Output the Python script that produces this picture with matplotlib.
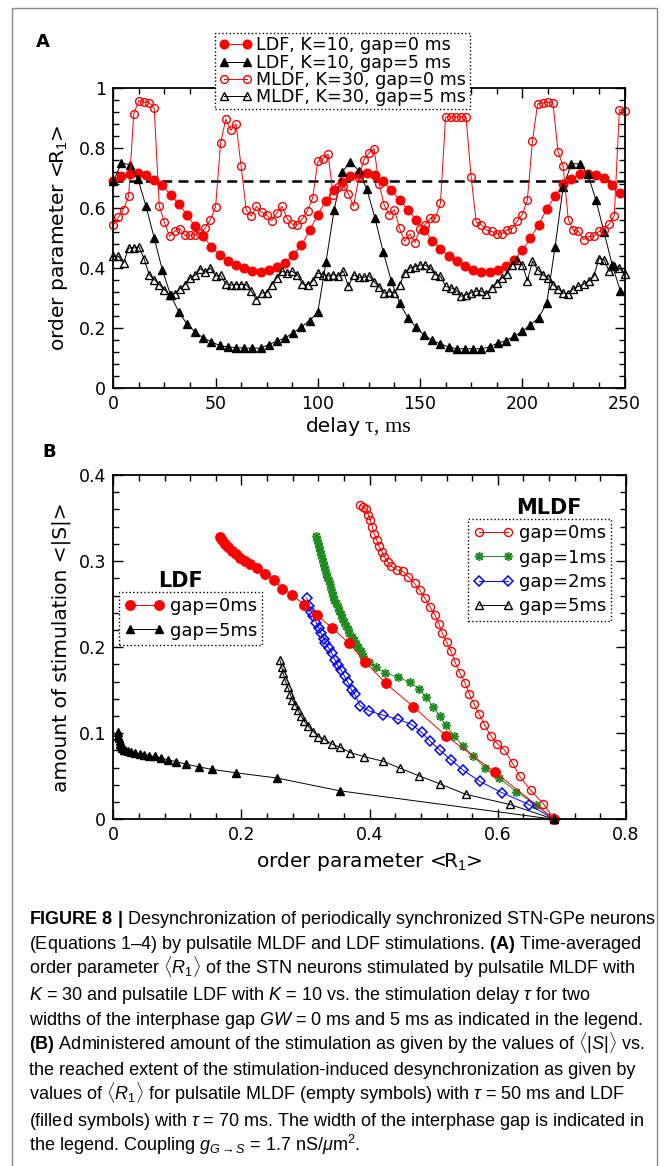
import matplotlib
matplotlib.use("Agg")
import matplotlib.pyplot as plt
from matplotlib.patches import Rectangle
from matplotlib.ticker import MultipleLocator, FuncFormatter
import numpy as np

W, H = 669, 1166

plt.rcParams['font.family'] = ['DejaVu Sans']
plt.rcParams['mathtext.fontset'] = 'custom'
plt.rcParams['mathtext.rm'] = 'Liberation Sans'
plt.rcParams['mathtext.it'] = 'Liberation Sans:italic'
plt.rcParams['mathtext.bf'] = 'Liberation Sans:bold'

# ---------------- panel A: <R1> vs delay ----------------
tau_ldf = np.arange(0, 249, 4)
ldf_gap0 = [0.690, 0.706, 0.714, 0.717, 0.712, 0.695, 0.676, 0.645, 0.614, 0.578,
            0.539, 0.506, 0.471, 0.445, 0.423, 0.410, 0.400, 0.389, 0.387, 0.393,
            0.403, 0.417, 0.445, 0.476, 0.526, 0.578, 0.625, 0.659, 0.686, 0.706,
            0.714, 0.717, 0.710, 0.690, 0.659, 0.628, 0.595, 0.562, 0.528, 0.492,
            0.464, 0.439, 0.423, 0.406, 0.395, 0.387, 0.387, 0.395, 0.408, 0.428,
            0.459, 0.500, 0.545, 0.597, 0.640, 0.681, 0.697, 0.714, 0.714, 0.712,
            0.701, 0.679, 0.651]
ldf_gap5 = [0.690, 0.751, 0.745, 0.699, 0.606, 0.501, 0.393, 0.311, 0.254, 0.214,
            0.187, 0.167, 0.154, 0.142, 0.137, 0.135, 0.133, 0.133, 0.133, 0.145,
            0.156, 0.167, 0.184, 0.204, 0.225, 0.252, 0.420, 0.594, 0.722, 0.755,
            0.725, 0.663, 0.566, 0.454, 0.356, 0.284, 0.235, 0.203, 0.176, 0.159,
            0.147, 0.137, 0.131, 0.131, 0.131, 0.131, 0.137, 0.150, 0.158, 0.172,
            0.189, 0.211, 0.234, 0.284, 0.469, 0.670, 0.748, 0.748, 0.714, 0.628,
            0.520, 0.410, 0.323]
tau_mldf = np.arange(0, 251, 2.5)
mldf_gap0 = [0.543, 0.570, 0.595, 0.640, 0.914, 0.959, 0.954, 0.952, 0.935, 0.606,
             0.554, 0.506, 0.523, 0.532, 0.509, 0.509, 0.512, 0.517, 0.534, 0.562,
             0.603, 0.818, 0.897, 0.860, 0.882, 0.740, 0.595, 0.573, 0.606, 0.586,
             0.578, 0.558, 0.584, 0.606, 0.565, 0.547, 0.543, 0.565, 0.592, 0.634,
             0.756, 0.764, 0.781, 0.645, 0.672, 0.675, 0.648, 0.606, 0.700, 0.760,
             0.784, 0.799, 0.680, 0.610, 0.578, 0.595, 0.533, 0.489, 0.515, 0.485,
             0.530, 0.545, 0.566, 0.567, 0.617, 0.904, 0.904, 0.904, 0.904, 0.904,
             0.703, 0.553, 0.545, 0.526, 0.523, 0.514, 0.514, 0.528, 0.532, 0.556,
             0.578, 0.628, 0.825, 0.948, 0.951, 0.954, 0.951, 0.788, 0.740, 0.562,
             0.526, 0.523, 0.495, 0.506, 0.506, 0.523, 0.528, 0.547, 0.575, 0.929,
             0.925]
mldf_gap5 = [0.439, 0.439, 0.417, 0.467, 0.467, 0.471, 0.432, 0.378, 0.362, 0.345,
             0.328, 0.311, 0.314, 0.331, 0.345, 0.367, 0.376, 0.398, 0.387, 0.400,
             0.373, 0.376, 0.347, 0.343, 0.345, 0.345, 0.345, 0.323, 0.295, 0.317,
             0.317, 0.345, 0.367, 0.389, 0.384, 0.389, 0.378, 0.347, 0.345, 0.356,
             0.384, 0.378, 0.373, 0.378, 0.373, 0.390, 0.339, 0.378, 0.369, 0.369,
             0.374, 0.355, 0.338, 0.316, 0.321, 0.316, 0.344, 0.383, 0.400, 0.405,
             0.410, 0.410, 0.400, 0.378, 0.373, 0.339, 0.334, 0.328, 0.306, 0.311,
             0.317, 0.323, 0.323, 0.314, 0.334, 0.350, 0.367, 0.380, 0.412, 0.428,
             0.412, 0.358, 0.423, 0.395, 0.378, 0.367, 0.345, 0.331, 0.317, 0.314,
             0.331, 0.339, 0.347, 0.356, 0.373, 0.432, 0.428, 0.389, 0.406, 0.400,
             0.380]
r_unstim = 0.69
labels_a = ["LDF, K=10, gap=0 ms", "LDF, K=10, gap=5 ms",
            "MLDF, K=30, gap=0 ms", "MLDF, K=30, gap=5 ms"]

# ---------------- panel B: <|S|> vs <R1> ----------------
ldf0_r = [0.166, 0.170, 0.174, 0.179, 0.185, 0.191, 0.198, 0.205, 0.214, 0.225,
          0.236, 0.250, 0.264, 0.279, 0.298, 0.318, 0.342, 0.367, 0.393, 0.425,
          0.468, 0.519, 0.595, 0.688]
ldf0_s = [0.328, 0.324, 0.320, 0.316, 0.312, 0.308, 0.304, 0.300, 0.297, 0.292,
          0.285, 0.278, 0.268, 0.261, 0.249, 0.237, 0.222, 0.205, 0.183, 0.158,
          0.131, 0.097, 0.055, 0.0]
ldf5_r = [0.008, 0.008, 0.009, 0.010, 0.011, 0.012, 0.014, 0.016, 0.019, 0.023,
          0.028, 0.034, 0.041, 0.048, 0.056, 0.065, 0.075, 0.086, 0.098, 0.114,
          0.133, 0.154, 0.192, 0.255, 0.354, 0.688]
ldf5_s = [0.101, 0.097, 0.094, 0.091, 0.088, 0.085, 0.083, 0.081, 0.080, 0.079,
          0.078, 0.077, 0.076, 0.075, 0.074, 0.073, 0.071, 0.069, 0.067, 0.064,
          0.061, 0.058, 0.054, 0.048, 0.033, 0.0]
mldf0_r = [0.385, 0.390, 0.395, 0.398, 0.401, 0.404, 0.407, 0.411, 0.414, 0.419,
           0.423, 0.428, 0.434, 0.442, 0.452, 0.460, 0.470, 0.478, 0.486, 0.494,
           0.502, 0.508, 0.513, 0.520, 0.527, 0.533, 0.541, 0.549, 0.555, 0.563,
           0.571, 0.579, 0.589, 0.599, 0.610, 0.623, 0.634, 0.651, 0.671, 0.688]
mldf0_s = [0.365, 0.363, 0.360, 0.354, 0.348, 0.340, 0.332, 0.325, 0.318, 0.311,
           0.305, 0.299, 0.294, 0.290, 0.288, 0.282, 0.274, 0.266, 0.257, 0.247,
           0.237, 0.227, 0.217, 0.206, 0.195, 0.183, 0.170, 0.158, 0.146, 0.134,
           0.122, 0.110, 0.097, 0.088, 0.081, 0.065, 0.050, 0.034, 0.018, 0.0]
mldf1_r = [0.316, 0.318, 0.319, 0.321, 0.322, 0.324, 0.326, 0.327, 0.329, 0.331,
           0.332, 0.334, 0.336, 0.338, 0.339, 0.341, 0.343, 0.345, 0.347, 0.350,
           0.352, 0.355, 0.357, 0.360, 0.363, 0.366, 0.368, 0.372, 0.375, 0.379,
           0.382, 0.386, 0.390, 0.399, 0.410, 0.424, 0.445, 0.463, 0.477, 0.488,
           0.499, 0.509, 0.519, 0.532, 0.546, 0.562, 0.580, 0.602, 0.629, 0.660,
           0.688]
mldf1_s = [0.329, 0.325, 0.321, 0.316, 0.312, 0.307, 0.303, 0.299, 0.294, 0.290,
           0.286, 0.281, 0.277, 0.273, 0.268, 0.264, 0.260, 0.255, 0.251, 0.247,
           0.242, 0.238, 0.234, 0.229, 0.225, 0.221, 0.217, 0.212, 0.208, 0.204,
           0.200, 0.196, 0.190, 0.183, 0.177, 0.170, 0.165, 0.159, 0.151, 0.142,
           0.131, 0.120, 0.109, 0.097, 0.085, 0.073, 0.060, 0.048, 0.032, 0.017,
           0.0]
mldf2_r = [0.302, 0.305, 0.309, 0.312, 0.317, 0.321, 0.324, 0.329, 0.331, 0.336,
           0.341, 0.346, 0.350, 0.355, 0.361, 0.366, 0.372, 0.377, 0.385, 0.399,
           0.421, 0.445, 0.466, 0.481, 0.494, 0.510, 0.527, 0.546, 0.572, 0.606,
           0.649, 0.688]
mldf2_s = [0.257, 0.248, 0.241, 0.236, 0.228, 0.222, 0.216, 0.210, 0.205, 0.199,
           0.193, 0.185, 0.179, 0.174, 0.166, 0.159, 0.150, 0.145, 0.132, 0.126,
           0.121, 0.116, 0.110, 0.101, 0.091, 0.080, 0.069, 0.057, 0.044, 0.031,
           0.017, 0.0]
mldf5_r = [0.260, 0.263, 0.265, 0.268, 0.272, 0.276, 0.279, 0.284, 0.288, 0.293,
           0.298, 0.304, 0.312, 0.320, 0.329, 0.341, 0.354, 0.370, 0.391, 0.421,
           0.447, 0.477, 0.509, 0.550, 0.619, 0.688]
mldf5_s = [0.185, 0.177, 0.170, 0.162, 0.154, 0.146, 0.139, 0.133, 0.127, 0.120,
           0.114, 0.108, 0.102, 0.096, 0.093, 0.0875, 0.0836, 0.0775, 0.0728, 0.0675,
           0.0595, 0.0505, 0.0414, 0.029, 0.0172, 0.0]

caption = [
    r"$\mathbf{FIGURE\ 8\ |}$ Desynchronization of periodically synchronized STN-GPe neurons",
    r"(Equations 1–4) by pulsatile MLDF and LDF stimulations. $\mathbf{(A)}$ Time-averaged",
    r"order parameter $\langle R_1\rangle$ of the STN neurons stimulated by pulsatile MLDF with",
    r"$K$ = 30 and pulsatile LDF with $K$ = 10 vs. the stimulation delay $\tau$ for two",
    r"widths of the interphase gap $GW$ = 0 ms and 5 ms as indicated in the legend.",
    r"$\mathbf{(B)}$ Administered amount of the stimulation as given by the values of $\langle|S|\rangle$ vs.",
    r"the reached extent of the stimulation-induced desynchronization as given by",
    r"values of $\langle R_1\rangle$ for pulsatile MLDF (empty symbols) with $\tau$ = 50 ms and LDF",
    r"(filled symbols) with $\tau$ = 70 ms. The width of the interphase gap is indicated in",
    r"the legend. Coupling $g_{G\rightarrow S}$ = 1.7 nS/$\mu$m$^2$.",
]


def fx(px):
    return px / W


def fy(py):
    return 1 - py / H


def style_axes(ax, xmaj, xmin, ymaj, ymin):
    ax.xaxis.set_major_locator(MultipleLocator(xmaj))
    ax.xaxis.set_minor_locator(MultipleLocator(xmin))
    ax.yaxis.set_major_locator(MultipleLocator(ymaj))
    ax.yaxis.set_minor_locator(MultipleLocator(ymin))
    fmt = FuncFormatter(lambda v, p: "%g" % round(v, 6))
    ax.xaxis.set_major_formatter(fmt)
    ax.yaxis.set_major_formatter(fmt)
    ax.tick_params(which='both', direction='in', top=True, right=True, width=1.0,
                   labelsize=12.5, pad=5)
    ax.tick_params(which='major', length=7)
    ax.tick_params(which='minor', length=4)
    for s in ax.spines.values():
        s.set_linewidth(1.3)


fig = plt.figure(figsize=(W / 100, H / 100), dpi=100)

# outer frame
fig.patches.append(Rectangle((fx(12), -0.01), fx(657) - fx(12), fy(8) + 0.01,
                             transform=fig.transFigure, fill=False,
                             edgecolor='#8a8a8a', linewidth=1.0))

# ---- panel A ----
axA = fig.add_axes([fx(113.3), fy(388), fx(624.5) - fx(113.3), fy(88.3) - fy(388)])
axA.axhline(r_unstim, color='black', linestyle=(0, (4, 2.5)), linewidth=1.8, zorder=1)
axA.plot(tau_ldf, ldf_gap0, color='red', lw=0.7, marker='o', ms=6.2,
         mfc='red', mec='red', clip_on=False, label=labels_a[0])
axA.plot(tau_ldf, ldf_gap5, color='black', lw=0.7, marker='^', ms=6.2,
         mfc='black', mec='black', clip_on=False, label=labels_a[1])
axA.plot(tau_mldf, mldf_gap0, color='red', lw=0.7, marker='o', ms=5.6,
         mfc='none', mec='red', mew=1.0, clip_on=False, label=labels_a[2])
axA.plot(tau_mldf, mldf_gap5, color='black', lw=0.7, marker='^', ms=5.6,
         mfc='none', mec='black', mew=1.0, clip_on=False, label=labels_a[3])
axA.set_xlim(0, 250)
axA.set_ylim(0, 1)
style_axes(axA, 50, 12.5, 0.2, 0.04)
axA.set_ylabel(r"order parameter <R$_1$>", fontsize=14.5, labelpad=6)
legA = axA.legend(loc='upper left', bbox_to_anchor=(fx(215), fy(33)),
                  bbox_transform=fig.transFigure, borderaxespad=0, fontsize=12.6,
                  numpoints=2, handlelength=1.9, handletextpad=0.25,
                  labelspacing=-0.05, borderpad=0.2, fancybox=False,
                  framealpha=1, edgecolor='black')
legA.get_frame().set_linestyle(':')
legA.get_frame().set_linewidth(1.0)
fig.text(fx(361), fy(427), "delay", fontsize=14.5, ha='right', va='center')
fig.text(fx(365), fy(427), "τ, ms", fontsize=16, ha='left', va='center',
         family='Liberation Serif')
fig.text(fx(36), fy(42), "A", fontsize=13, fontweight='bold', ha='left', va='center')

# ---- panel B ----
axB = fig.add_axes([fx(113.3), fy(819.3), fx(626) - fx(113.3), fy(475) - fy(819.3)])
pm0, = axB.plot(mldf0_r, mldf0_s, color='red', lw=0.7, marker='o', ms=5.8,
                mfc='none', mec='red', mew=1.0, clip_on=False)
pm1, = axB.plot(mldf1_r, mldf1_s, color='#1f8a1f', lw=0.7, marker=(8, 2, 0), ms=6.5,
                mec='#1f8a1f', mew=1.1, clip_on=False)
pm2, = axB.plot(mldf2_r, mldf2_s, color='blue', lw=0.7, marker='D', ms=4.6,
                mfc='none', mec='blue', mew=1.1, clip_on=False)
pm5, = axB.plot(mldf5_r, mldf5_s, color='black', lw=0.7, marker='^', ms=5.6,
                mfc='none', mec='black', mew=1.0, clip_on=False)
pl0, = axB.plot(ldf0_r, ldf0_s, color='red', lw=0.7, marker='o', ms=6.8,
                mfc='red', mec='red', clip_on=False)
pl5, = axB.plot(ldf5_r, ldf5_s, color='black', lw=0.7, marker='^', ms=6.2,
                mfc='black', mec='black', clip_on=False)
axB.set_xlim(0, 0.8)
axB.set_ylim(0, 0.4)
style_axes(axB, 0.2, 0.04, 0.1, 0.02)
axB.set_xlabel(r"order parameter <R$_1$>", fontsize=14.5, labelpad=4)
axB.set_ylabel(r"amount of stimulation <|S|>", fontsize=14.5, labelpad=6)
fig.text(fx(42), fy(452), "B", fontsize=13, fontweight='bold', ha='left', va='center')

legL = axB.legend([pl0, pl5], ["gap=0ms", "gap=5ms"], loc='upper left',
                  bbox_to_anchor=(fx(119), fy(592)), bbox_transform=fig.transFigure,
                  borderaxespad=0, fontsize=13, numpoints=2, handlelength=2.2,
                  handletextpad=0.3, labelspacing=0.35, borderpad=0.3,
                  fancybox=False, framealpha=1, edgecolor='black')
legL.get_frame().set_linestyle(':')
axB.add_artist(legL)
legM = axB.legend([pm0, pm1, pm2, pm5], ["gap=0ms", "gap=1ms", "gap=2ms", "gap=5ms"],
                  loc='upper left', bbox_to_anchor=(fx(468), fy(519)),
                  bbox_transform=fig.transFigure, borderaxespad=0, fontsize=13,
                  numpoints=2, handlelength=2.2, handletextpad=0.3,
                  labelspacing=0.35, borderpad=0.3, fancybox=False,
                  framealpha=1, edgecolor='black')
legM.get_frame().set_linestyle(':')
fig.text(fx(180), fy(581), "LDF", fontsize=15, fontweight='bold', ha='center', va='center')
fig.text(fx(549), fy(508), "MLDF", fontsize=15, fontweight='bold', ha='center', va='center')

# ---- caption ----
for i, line in enumerate(caption):
    fig.text(fx(29), fy(924 + 25.2 * i), line, fontsize=13.0, ha='left', va='baseline',
             family='Liberation Sans')

fig.savefig("out.png", dpi=100)
